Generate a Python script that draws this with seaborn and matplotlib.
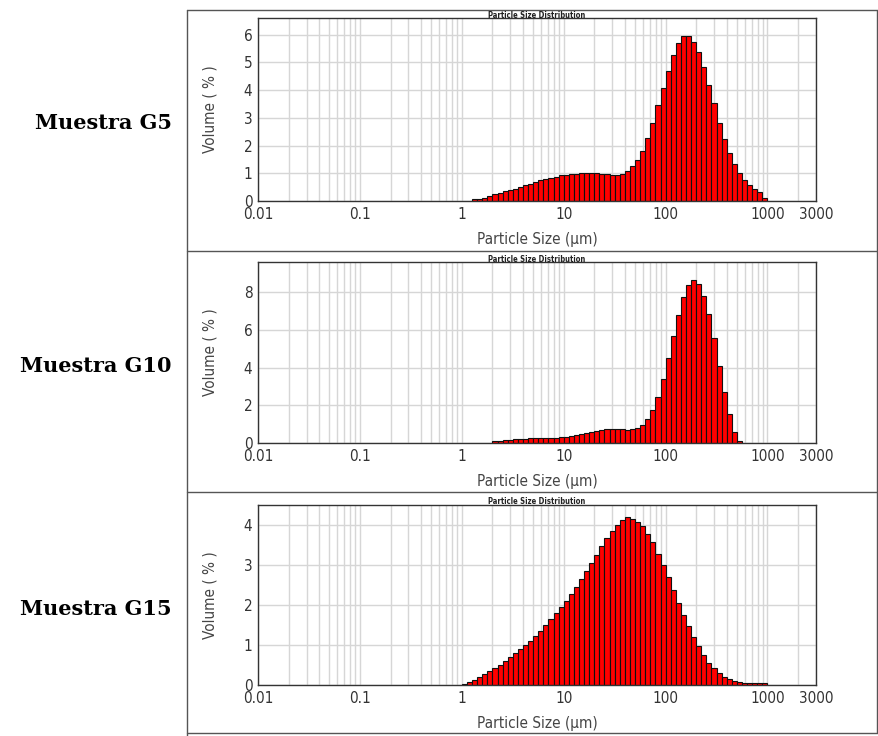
import numpy as np
import pandas as pd
import matplotlib
matplotlib.use("Agg")
import matplotlib.pyplot as plt
from matplotlib.lines import Line2D
from matplotlib.ticker import FixedLocator, NullFormatter
import seaborn as sns

# ------------------------------
# datos (clases de tamaño tipo Mastersizer, 20 por década)
# ------------------------------
size_edges = [1.002, 1.125, 1.262, 1.416, 1.589, 1.783, 2.000, 2.244, 2.518, 2.825,
              3.170, 3.557, 3.991, 4.477, 5.024, 5.637, 6.325, 7.096, 7.962, 8.934,
              10.024, 11.247, 12.619, 14.159, 15.887, 17.825, 20.000, 22.440, 25.179, 28.251,
              31.698, 35.566, 39.905, 44.774, 50.238, 56.368, 63.246, 70.963, 79.621, 89.337,
              100.237, 112.468, 126.191, 141.589, 158.866, 178.250, 200.000, 224.404, 251.785, 282.508,
              316.979, 355.656, 399.052, 447.744, 502.377, 563.677, 632.456, 709.627, 796.214, 893.367,
              1002.374]

vol_g5 = [0, 0, 0.06, 0.08, 0.12, 0.18, 0.24, 0.30, 0.36, 0.41,
          0.45, 0.50, 0.57, 0.63, 0.69, 0.74, 0.79, 0.84, 0.88, 0.92,
          0.95, 0.97, 0.99, 1.00, 1.00, 1.00, 1.00, 0.99, 0.96, 0.95,
          0.95, 0.98, 1.08, 1.25, 1.49, 1.82, 2.26, 2.80, 3.45, 4.07,
          4.68, 5.28, 5.70, 5.95, 5.95, 5.75, 5.38, 4.85, 4.20, 3.52,
          2.83, 2.24, 1.72, 1.33, 1.00, 0.77, 0.58, 0.44, 0.33, 0.12]

vol_g10 = [0, 0, 0, 0, 0, 0, 0.08, 0.12, 0.14, 0.17,
           0.19, 0.21, 0.22, 0.24, 0.25, 0.26, 0.26, 0.27, 0.28, 0.30,
           0.33, 0.36, 0.40, 0.46, 0.53, 0.60, 0.66, 0.70, 0.73, 0.74,
           0.74, 0.72, 0.70, 0.72, 0.78, 0.96, 1.26, 1.75, 2.46, 3.42,
           4.53, 5.65, 6.79, 7.75, 8.39, 8.65, 8.42, 7.81, 6.84, 5.58,
           4.09, 2.72, 1.54, 0.56, 0.09, 0, 0, 0, 0, 0]

vol_g15 = [0.03, 0.07, 0.13, 0.21, 0.28, 0.35, 0.43, 0.51, 0.60, 0.69,
           0.79, 0.89, 1.00, 1.11, 1.23, 1.36, 1.50, 1.64, 1.79, 1.94,
           2.10, 2.27, 2.45, 2.64, 2.84, 3.05, 3.26, 3.47, 3.67, 3.85,
           4.00, 4.12, 4.20, 4.16, 4.08, 3.97, 3.78, 3.58, 3.28, 2.99,
           2.69, 2.38, 2.06, 1.75, 1.47, 1.21, 0.98, 0.76, 0.56, 0.42,
           0.30, 0.21, 0.15, 0.11, 0.08, 0.06, 0.06, 0.06, 0.05, 0.05]

muestras = ["Muestra G5", "Muestra G10", "Muestra G15"]
y_ticks = [[0, 1, 2, 3, 4, 5, 6], [0, 2, 4, 6, 8], [0, 1, 2, 3, 4]]
y_tops = [6.6, 9.6, 4.5]
x_ticks = [0.01, 0.1, 1, 10, 100, 1000, 3000]
x_ticklabels = ["0.01", "0.1", "1", "10", "100", "1000", "3000"]

# ------------------------------
# estilo
# ------------------------------
sns.set_theme(style="white")
plt.rcParams['font.family'] = ['DejaVu Sans']
plt.rcParams['font.stretch'] = 'condensed'

W, H = 879, 736
fig = plt.figure(figsize=(W / 100, H / 100), dpi=100)


def px_rect(l, t, r, b):
    return [l / W, 1 - b / H, (r - l) / W, (b - t) / H]


# recuadro tipo tabla
frame_kw = dict(color="#555555", lw=1.0, transform=fig.transFigure)
for (x0, y0, x1, y1) in [(187, 10, 877, 10), (187, 251, 877, 251), (187, 492, 877, 492),
                         (187, 733, 877, 733), (187, 10, 187, 736), (877, 10, 877, 733)]:
    fig.add_artist(Line2D([x0 / W, x1 / W], [1 - y0 / H, 1 - y1 / H], **frame_kw))

panel_px = [(258, 18, 816, 201), (258, 262, 816, 443), (258, 505, 816, 685)]
label_y = [123, 366, 609]
vols_all = [vol_g5, vol_g10, vol_g15]

edges = np.array(size_edges)
minor_pos = [m * 10.0 ** d for d in range(-2, 4) for m in range(2, 10) if m * 10.0 ** d < 3000]

for i, vols in enumerate(vols_all):
    vols = np.array(vols)
    nz = np.nonzero(vols)[0]
    a, b = nz[0], nz[-1] + 1
    sub_edges = edges[a:b + 1]
    centers = np.sqrt(sub_edges[:-1] * sub_edges[1:])
    df = pd.DataFrame({"size": centers, "vol": vols[a:b]})

    l, t, r, bt = panel_px[i]
    ax = fig.add_axes(px_rect(l, t, r, bt))
    sns.histplot(data=df, x="size", weights="vol", bins=list(np.log10(sub_edges)),
                 log_scale=True, stat="count", color="#ff0000", alpha=1,
                 edgecolor="#111111", linewidth=0.8, ax=ax)

    ax.set_xlim(0.01, 3000)
    ax.set_ylim(0, y_tops[i])
    ax.set_xticks(x_ticks, labels=x_ticklabels)
    ax.xaxis.set_minor_locator(FixedLocator(minor_pos))
    ax.xaxis.set_minor_formatter(NullFormatter())
    ax.set_yticks(y_ticks[i])
    ax.set_axisbelow(True)
    ax.grid(which="both", axis="x", color="#d6d6d6", lw=1.0)
    ax.grid(which="major", axis="y", color="#d6d6d6", lw=1.0)
    ax.tick_params(axis="both", which="both", length=0, labelsize=11, colors="#333333")
    ax.tick_params(axis="x", pad=4)
    ax.tick_params(axis="y", pad=4)
    for s in ax.spines.values():
        s.set_color("#333333")
        s.set_linewidth(1.0)

    ax.set_xlabel("Particle Size (µm)", fontsize=11, color="#444444")
    ax.xaxis.set_label_coords(0.5, -0.17)
    ax.set_ylabel("Volume ( % )", fontsize=11, color="#444444")
    ax.yaxis.set_label_coords(-0.072, 0.5)

    # titulo pequeño
    fig.text((l + r) / 2 / W, 1 - (t - 3) / H, "Particle Size Distribution",
             ha="center", va="center", fontsize=5.5, fontweight="bold", color="#222222")

    # etiqueta de la muestra
    fig.text(172 / W, 1 - label_y[i] / H, muestras[i], ha="right", va="center",
             fontsize=15, fontweight="bold", family=["DejaVu Serif"],
             fontstretch="normal", color="black")

fig.savefig("out.png", dpi=100, facecolor="white")
